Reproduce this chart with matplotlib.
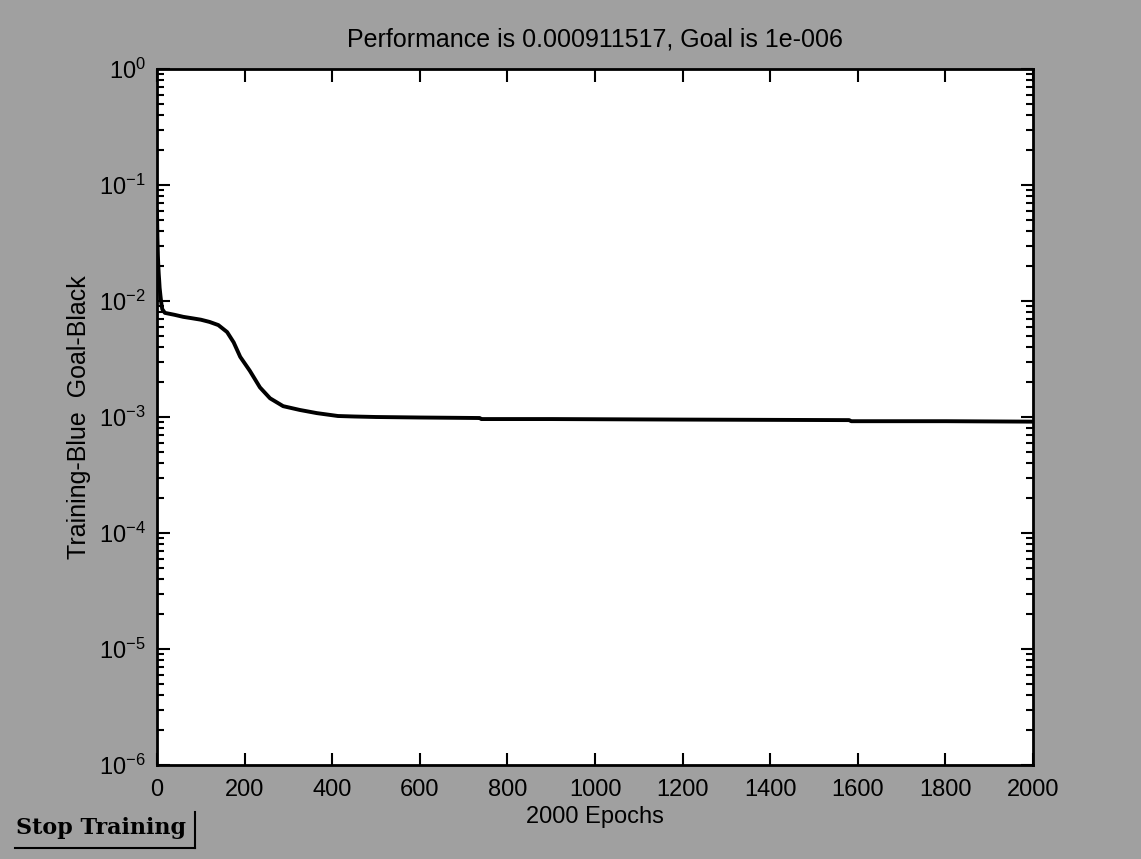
import matplotlib
matplotlib.use("Agg")
import matplotlib.pyplot as plt
from matplotlib.lines import Line2D

# ================= DATA =================
epochs = [0, 1, 2, 3, 4, 5, 6, 8, 10, 12, 18, 40, 60, 80, 100, 120, 140, 160,
          175, 190, 212, 235, 258, 288, 326, 365, 413, 450, 500, 600, 737,
          740, 900, 1200, 1580, 1585, 1800, 2000]
perf = [0.06, 0.035, 0.025, 0.02, 0.017, 0.015, 0.013, 0.011, 0.0095, 0.0085,
        0.0079, 0.0076, 0.0073, 0.0071, 0.0069, 0.0066, 0.0062, 0.0054,
        0.0044, 0.0033, 0.0025, 0.0018, 0.00145, 0.00124, 0.00115, 0.00108,
        0.00102, 0.00101, 0.00100, 0.00099, 0.00098, 0.00096, 0.00096,
        0.00095, 0.00094, 0.00092, 0.00092, 0.000912]

x_ticks = [0, 200, 400, 600, 800, 1000, 1200, 1400, 1600, 1800, 2000]
title_text = "Performance is 0.000911517, Goal is 1e-006"
x_label = "2000 Epochs"
y_label = "Training-Blue  Goal-Black"

# ================= FIGURE =================
plt.rcParams['font.family'] = ['Liberation Sans', 'DejaVu Sans']
plt.rcParams['mathtext.fontset'] = 'custom'
plt.rcParams['mathtext.rm'] = 'Liberation Sans'
plt.rcParams['mathtext.it'] = 'Liberation Sans'

bg = "#a0a0a0"
fig = plt.figure(figsize=(11.41, 8.59), dpi=100, facecolor=bg)
ax = fig.add_axes([0.1376, 0.1094, 0.7678, 0.8103])
ax.set_facecolor("white")

ax.semilogy(epochs, perf, color="black", linewidth=2.8)

ax.set_xlim(0, 2000)
ax.set_ylim(1e-6, 1e0)
ax.set_xticks(x_ticks)

ax.tick_params(which="both", direction="in", top=True, right=True,
               labelsize=17, width=1.5, colors="black")
ax.tick_params(which="major", length=9)
ax.tick_params(which="minor", length=5)
ax.tick_params(axis="x", which="major", pad=10)
ax.tick_params(axis="y", which="major", pad=8)
ax.xaxis.set_tick_params(which="minor", bottom=False, top=False)
for s in ax.spines.values():
    s.set_linewidth(2)

ax.set_title(title_text, fontsize=18, pad=16)
ax.set_xlabel(x_label, fontsize=17, labelpad=4)
ax.set_ylabel(y_label, fontsize=18, labelpad=6)

# ================= STOP TRAINING BUTTON =================
fig.text(0.014, 0.036, "Stop Training", fontsize=16, fontweight="bold",
         family="DejaVu Serif", ha="left", va="center")
fig.add_artist(Line2D([0.013, 0.171], [0.013, 0.013],
                      color="black", linewidth=1.5))
fig.add_artist(Line2D([0.171, 0.171], [0.013, 0.0547],
                      color="black", linewidth=1.5))

fig.savefig("out.png", dpi=100, facecolor=bg)
